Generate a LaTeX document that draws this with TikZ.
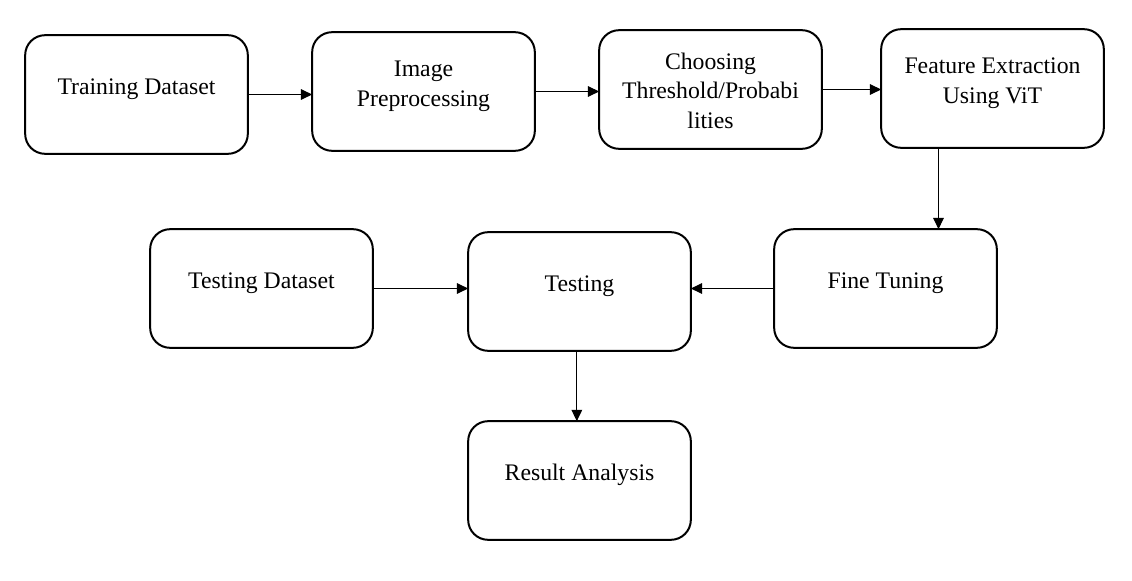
\documentclass[tikz,border=0pt]{standalone}
\usepackage{fontspec}
\setmainfont{Liberation Serif}
\usetikzlibrary{arrows.meta}

\begin{document}
\begin{tikzpicture}
      \begin{scope}[x=0.75pt,y=-0.75pt,
        stage/.style={draw=black,line width=1.5pt,rounded corners=15pt,
          minimum width=167pt,minimum height=89pt,inner sep=0pt,outer sep=0pt},
        lbl/.style={align=center,inner sep=0pt,
          font=\fontsize{17.8}{22.2}\selectfont},
        arr/.style={black,line width=0.8pt,
          -{Triangle[length=8.5pt,width=8pt]}}]
        % \draw[help lines,step=50] (0,0) grid (1132,581);
        \useasboundingbox (0,0) rectangle (1132,581);

        % top row
        \node[stage] (train) at (136.5,94.5) {};
        \node[lbl] (train_t) at (136.5,89) {Training Dataset};
        \node[stage] (prep) at (423.5,91.5) {};
        \node[lbl] (prep_t) at (423.5,86) {Image\\Preprocessing};
        \node[stage] (choose) at (710.5,89.5) {};
        \node[lbl] (choose_t) at (710.5,90.5) {Choosing\\Threshold/Probabi\\lities};
        \node[stage] (feat) at (992.5,88.5) {};
        \node[lbl] (feat_t) at (992.5,83.5) {Feature Extraction\\Using ViT};

        % middle row
        \node[stage] (testset) at (261.5,288.5) {};
        \node[lbl] (testset_t) at (261.5,283) {Testing Dataset};
        \node[stage] (test) at (579.5,291.5) {};
        \node[lbl] (test_t) at (579.5,286.5) {Testing};
        \node[stage] (tune) at (885.5,288.5) {};
        \node[lbl] (tune_t) at (885.5,283) {Fine Tuning};

        % bottom
        \node[stage] (result) at (579.5,480.5) {};
        \node[lbl] (result_t) at (579.5,475) {Result Analysis};

        \draw[arr] (train.east) -- (train.east -| prep.west);
        \draw[arr] (prep.east) -- (prep.east -| choose.west);
        \draw[arr] (choose.east) -- (choose.east -| feat.west);
        \draw[arr] ([xshift=-40.5pt]feat.south) -- ([xshift=-40.5pt]feat.south |- tune.north);
        \draw[arr] (tune.west) -- (tune.west -| test.east);
        \draw[arr] (testset.east) -- (testset.east -| test.west);
        \draw[arr] ([xshift=-2pt]test.south) -- ([xshift=-2pt]result.north);
      \end{scope}
    \end{tikzpicture}
\end{document}
